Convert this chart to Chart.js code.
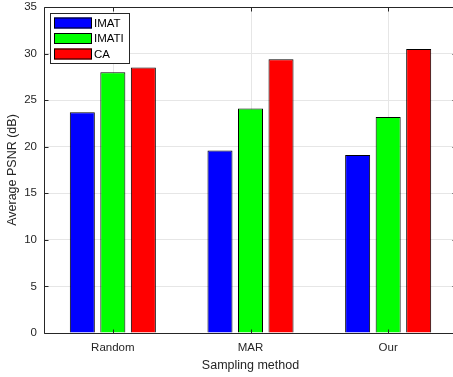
<!DOCTYPE html>
<html>
<head>
<meta charset="utf-8">
<script src="https://cdn.jsdelivr.net/npm/chart.js@4"></script>
<style>
html,body{margin:0;padding:0;background:#fff;overflow:hidden;}
#wrap{width:453px;height:377px;overflow:hidden;}
</style>
</head>
<body>
<div id="wrap"><canvas id="psnrChart" width="457" height="377"></canvas></div>
<script>
const methods = ["Random","MAR","Our"];
const imatVals = [23.7,19.6,19.1];
const imatiVals = [28.0,24.1,23.2];
const caVals = [28.5,29.4,30.5];
const yTicks = [0,5,10,15,20,25,30,35];

const FONT = "'Liberation Sans', Arial, sans-serif";
const AXIS = "#262626";

// MATLAB-like box, grid at category centres, inward ticks and legend inside the axes
const boxPlugin = {
id:"boxPlugin",
beforeDatasetsDraw(chart){
const {ctx,chartArea:a,scales} = chart;
ctx.save();
ctx.strokeStyle = "#e6e6e6";
ctx.lineWidth = 1;
ctx.beginPath();
methods.forEach((m,i)=>{
const x = Math.round(scales.x.getPixelForValue(i))+0.5;
ctx.moveTo(x,a.top);ctx.lineTo(x,a.bottom);
});
ctx.stroke();
ctx.restore();
},
afterDatasetsDraw(chart){
const {ctx,chartArea:a,scales} = chart;
ctx.save();
ctx.strokeStyle = AXIS;
ctx.lineWidth = 1;
const L = Math.round(a.left)+0.5, T = Math.round(a.top)+0.5;
const R = Math.round(a.right)-0.5, B = Math.round(a.bottom)+0.5;
ctx.beginPath();
ctx.moveTo(L,B);ctx.lineTo(L,T);ctx.lineTo(R,T);ctx.lineTo(R,B);ctx.lineTo(L,B);
scales.y.ticks.forEach(t=>{
const y = Math.round(scales.y.getPixelForValue(t.value))+0.5;
ctx.moveTo(L,y);ctx.lineTo(L+4,y);
ctx.moveTo(R,y);ctx.lineTo(R-4,y);
});
methods.forEach((m,i)=>{
const x = Math.round(scales.x.getPixelForValue(i))+0.5;
ctx.moveTo(x,B);ctx.lineTo(x,B-4);
ctx.moveTo(x,T);ctx.lineTo(x,T+4);
});
ctx.stroke();

const lx = a.left+6, ly = a.top+6, lw = 79, lh = 50;
ctx.fillStyle = "#fff";
ctx.fillRect(lx,ly,lw,lh);
ctx.strokeStyle = "#262626";
ctx.strokeRect(lx+0.5,ly+0.5,lw,lh);
ctx.font = "11.5px "+FONT;
ctx.textBaseline = "middle";
chart.data.datasets.forEach((ds,i)=>{
const cy = ly+9.5+i*15.5;
ctx.fillStyle = ds.backgroundColor;
ctx.fillRect(lx+4,cy-5,38,11);
ctx.strokeStyle = "#000";
ctx.strokeRect(lx+4.5,cy-4.5,37,10);
ctx.fillStyle = "#000";
ctx.fillText(ds.label,lx+44,cy+1);
});
ctx.restore();
}
};

new Chart(document.getElementById("psnrChart"),{
type:"bar",
data:{
labels:methods,
datasets:[
{label:"IMAT",data:imatVals,backgroundColor:"#0000ff",borderColor:"#000",borderWidth:1},
{label:"IMATI",data:imatiVals,backgroundColor:"#00ff00",borderColor:"#000",borderWidth:1},
{label:"CA",data:caVals,backgroundColor:"#ff0000",borderColor:"#000",borderWidth:1}
]
},
options:{
responsive:false,
animation:false,
layout:{padding:{top:7,right:0,left:0,bottom:0}},
datasets:{bar:{categoryPercentage:0.665,barPercentage:0.82}},
plugins:{
legend:{display:false},
tooltip:{enabled:false}
},
scales:{
x:{
grid:{color:"rgba(0,0,0,0)",drawTicks:false},
border:{display:false},
ticks:{color:AXIS,font:{family:FONT,size:11.5},padding:8},
title:{display:true,text:"Sampling method",color:AXIS,font:{family:FONT,size:12.5},padding:{top:1,bottom:4}},
afterFit(s){s.height=44;s.paddingLeft=0;s.paddingRight=0;}
},
y:{
min:0,max:35,
afterBuildTicks(s){s.ticks=yTicks.map(v=>({value:v}));},
grid:{color:"#e6e6e6",drawTicks:false},
border:{display:false},
ticks:{color:AXIS,font:{family:FONT,size:11.5},padding:7},
title:{display:true,text:"Average PSNR (dB)",color:AXIS,font:{family:FONT,size:12.5},padding:{top:5,bottom:0}},
afterFit(s){s.width=44;s.paddingTop=0;s.paddingBottom=0;}
}
}
},
plugins:[boxPlugin]
});
</script>
</body>
</html>
